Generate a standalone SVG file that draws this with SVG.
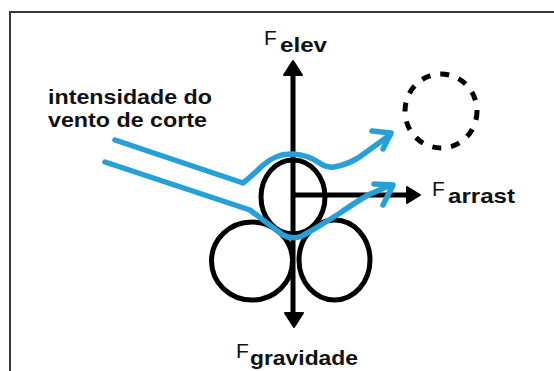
<svg xmlns="http://www.w3.org/2000/svg" width="554" height="371" viewBox="0 0 554 371">
<style>
.frame{fill:none;stroke:#3a3a3a;stroke-width:2}
.grain{fill:none;stroke:#000;stroke-width:5}
.ghost{fill:none;stroke:#000;stroke-width:5;stroke-dasharray:9 10}
.axis{fill:none;stroke:#000;stroke-width:5}
.head{fill:#000;stroke:#000;stroke-width:2;stroke-linejoin:round}
.flow{fill:none;stroke:#27a0d8;stroke-width:5.5;stroke-linecap:round;stroke-linejoin:round}
.lbl{font-family:"Liberation Sans",Arial,sans-serif;font-weight:bold;font-size:20px;fill:#111}
.F{font-family:"Liberation Sans",Arial,sans-serif;font-size:21px;fill:#111}
.sub{font-family:"Liberation Sans",Arial,sans-serif;font-weight:bold;font-size:21px;fill:#111}
</style>
<rect x="0" y="0" width="554" height="371" fill="#fff"/>
<path class="frame" d="M10,371 V12 H554"/>
<g id="grain-top"><ellipse class="grain" cx="293" cy="197" rx="32" ry="37"/></g>
<g id="grain-left"><ellipse class="grain" cx="252" cy="261" rx="40.5" ry="39"/></g>
<g id="grain-right"><ellipse class="grain" cx="334.5" cy="260" rx="35.5" ry="40"/></g>
<g id="grain-lifted"><ellipse class="ghost" cx="441" cy="111" rx="36" ry="37"/></g>
<g id="connectors">
<path class="axis" d="M293,72 V316"/>
<polygon class="head" points="293,61 284,75 302,75"/>
<polygon class="head" points="294,327 285,313 303,313"/>
<path class="axis" d="M293,195 H410"/>
<polygon class="head" points="420,195 407,187 407,203"/>
<path class="flow" d="M115,140 L243,183 Q252,176 262,166 Q276,153 293,154 Q308,155 318,162 Q326,168 334,167 Q346,165 358,158 L390,135"/>
<path class="flow" d="M372,131 L391,133 L383,149"/>
<path class="flow" d="M105,162 L250,210 Q268,224 283,235 Q292,240 302,236 Q320,226 340,213 Q356,202 368,195 L391,185"/>
<path class="flow" d="M374,184 L393,185 L383,205"/>
</g>
<g id="label-wind">
<text class="lbl" x="48" y="104" textLength="164" lengthAdjust="spacingAndGlyphs">intensidade do</text>
<text class="lbl" x="48" y="127" textLength="159" lengthAdjust="spacingAndGlyphs">vento de corte</text>
</g>
<g id="label-elev">
<text class="F" x="264" y="45">F</text>
<text class="sub" x="280" y="52" textLength="47" lengthAdjust="spacingAndGlyphs">elev</text>
</g>
<g id="label-arrast">
<text class="F" x="432" y="196">F</text>
<text class="sub" x="448" y="203" textLength="67" lengthAdjust="spacingAndGlyphs">arrast</text>
</g>
<g id="label-gravidade">
<text class="F" x="236" y="358">F</text>
<text class="sub" x="250" y="365" textLength="108" lengthAdjust="spacingAndGlyphs">gravidade</text>
</g>
</svg>
